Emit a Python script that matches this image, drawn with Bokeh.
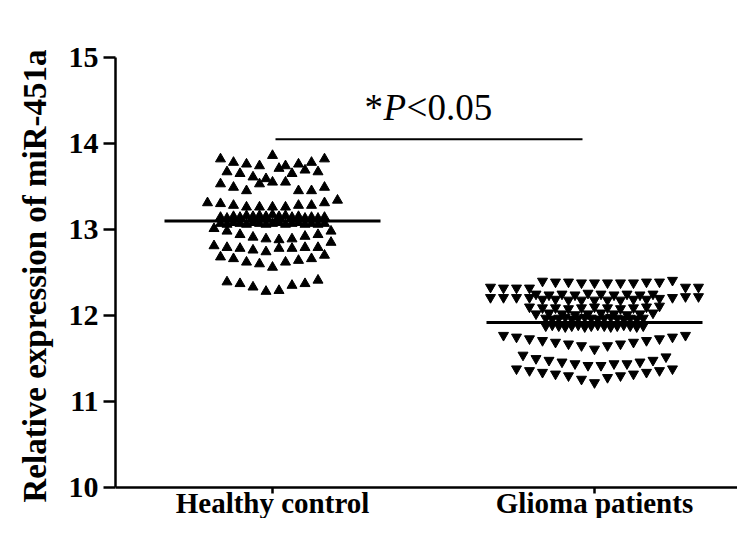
from bokeh.plotting import figure
from bokeh.models import Range1d, FixedTicker, Title
from bokeh.core.properties import value
from bokeh.embed import file_html
from bokeh.resources import INLINE

# ---------------- data ----------------
categories = ["Healthy control", "Glioma patients"]
y_ticks = [10, 11, 12, 13, 14, 15]
y_label = "Relative expression of miR-451a"
sig_parts = ["*", "P", "<0.05"]
sig_level = 14.05

group_means = [13.10, 11.92]

# healthy control: rows of values (left to right)
healthy_rows = [
    [13.82, 13.78, 13.76, 13.74, 13.86, 13.74, 13.76, 13.78, 13.82],
    [13.67, 13.65, 13.61, 13.59, 13.71, 13.65, 13.69, 13.67],
    [13.53, 13.49, 13.45, 13.53, 13.55, 13.55, 13.45, 13.45, 13.49],
    [13.31, 13.30, 13.28, 13.26, 13.26, 13.26, 13.26, 13.28, 13.28, 13.31, 13.34],
    [13.01, 12.98, 12.94, 12.91, 12.89, 12.88, 12.89, 12.92, 12.94, 12.98],
    [12.81, 12.79, 12.78, 12.76, 12.74, 12.78, 12.78, 12.79, 12.79, 12.85],
    [12.68, 12.66, 12.62, 12.60, 12.56, 12.62, 12.64, 12.66, 12.70],
    [12.39, 12.37, 12.33, 12.28, 12.29, 12.35, 12.37, 12.41],
]
# crowded rows around the healthy mean
healthy_dense_rows = [
    [13.14, 13.13, 13.15, 13.14, 13.16, 13.15, 13.16, 13.15, 13.17,
     13.15, 13.16, 13.14, 13.15, 13.13, 13.14, 13.13, 13.14],
    [13.07, 13.06, 13.08, 13.07, 13.06, 13.08, 13.07, 13.06, 13.07,
     13.08, 13.06, 13.07, 13.08, 13.06, 13.07, 13.06, 13.07],
]

# glioma patients: rows of values (left to right)
glioma_rows = [
    [12.33, 12.32, 12.32, 12.32, 12.40, 12.39, 12.39, 12.38, 12.38,
     12.38, 12.38, 12.38, 12.39, 12.39, 12.41, 12.33, 12.33],
    [12.25, 12.24, 12.25, 12.24, 12.26, 12.25, 12.24, 12.25, 12.24, 12.25],
    [12.21, 12.21, 12.21, 12.21, 12.19, 12.19, 12.18, 12.18, 12.18,
     12.18, 12.18, 12.19, 12.19, 12.20, 12.21, 12.22, 12.22],
    [12.10, 12.09, 12.09, 12.08, 12.09, 12.10, 12.09, 12.08, 12.09, 12.10, 12.11],
    [12.02, 12.03, 12.02, 12.01, 12.02, 12.03, 12.02, 12.01, 12.02, 12.03],
    [11.77, 11.75, 11.73, 11.71, 11.69, 11.67, 11.65, 11.61, 11.65,
     11.67, 11.69, 11.71, 11.73, 11.75, 11.77],
    [11.54, 11.50, 11.48, 11.46, 11.44, 11.42, 11.42, 11.44, 11.44, 11.46, 11.48, 11.52],
    [11.38, 11.36, 11.34, 11.32, 11.30, 11.26, 11.22, 11.28, 11.30,
     11.32, 11.34, 11.36, 11.38],
]
glioma_dense_rows = [
    [11.97, 11.96, 11.97, 11.98, 11.96, 11.97, 11.98, 11.97, 11.96,
     11.97, 11.98, 11.97, 11.96, 11.97, 11.96, 11.97],
    [11.88, 11.89, 11.88, 11.87, 11.88, 11.89, 11.87, 11.88, 11.89,
     11.88, 11.87, 11.88, 11.89, 11.88, 11.87, 11.88],
]

# ---------------- layout helpers ----------------
PX = 1.0 / 322.0          # one screen pixel in x data units
STEP = 13 * PX            # horizontal spacing of points in a row


def swarm(rows, center, step):
    xs, ys = [], []
    for row in rows:
        n = len(row)
        for i, v in enumerate(row):
            xs.append(center + (i - (n - 1) / 2.0) * step)
            ys.append(v)
    return xs, ys


hx, hy = swarm(healthy_rows, 1, STEP)
hdx, hdy = swarm(healthy_dense_rows, 1, STEP / 2)
gx, gy = swarm(glioma_rows, 2, STEP)
gdx, gdy = swarm(glioma_dense_rows, 2, STEP / 2)

FONT = "Liberation Serif"
Y_MIN, Y_MAX = y_ticks[0], y_ticks[-1]
# the frame runs a little below the axis floor so that the category names fit
y_start = Y_MIN - 31 * (Y_MAX - Y_MIN) / 430.0

p = figure(width=737, height=518, output_backend="svg", toolbar_location=None,
           x_range=Range1d(0.51242, 2.4441), y_range=Range1d(y_start, Y_MAX),
           min_border_left=115, min_border_right=0, min_border_top=57,
           min_border_bottom=0)
p.outline_line_color = None
p.xgrid.visible = False
p.ygrid.visible = False
p.background_fill_color = "white"
p.border_fill_color = "white"

# points
p.scatter(hx + hdx, hy + hdy, marker="triangle", size=10,
          fill_color="black", line_color="black")
p.scatter(gx + gdx, gy + gdy, marker="inverted_triangle", size=10,
          fill_color="black", line_color="black")

# mean lines
half = 108 * PX
for c, m in zip([1, 2], group_means):
    p.line([c - half, c + half], [m, m], line_color="black", line_width=3)

# significance bar + text
p.line([1 + 3 * PX, 2 - 12 * PX], [sig_level, sig_level], line_color="black", line_width=2)
mid = 1.4845
sig_y = 14.42
p.text([mid], [sig_y], text=[sig_parts[0]], text_font=value(FONT), text_font_size="37px",
       text_align="left", text_baseline="alphabetic", x_offset=-64, text_color="black")
p.text([mid], [sig_y], text=[sig_parts[1]], text_font=value(FONT), text_font_size="37px",
       text_font_style="italic", text_align="left", text_baseline="alphabetic",
       x_offset=-45, text_color="black")
p.text([mid], [sig_y], text=[sig_parts[2]], text_font=value(FONT), text_font_size="37px",
       text_align="left", text_baseline="alphabetic", x_offset=-22, text_color="black")

# y axis
ya = p.yaxis[0]
ya.ticker = FixedTicker(ticks=y_ticks)
ya.bounds = (Y_MIN, Y_MAX)
ya.minor_tick_line_color = None
ya.major_tick_out = 12
ya.major_tick_in = 0
ya.major_tick_line_width = 2.5
ya.axis_line_width = 2.5
ya.major_label_text_font = FONT
ya.major_label_text_font_style = "bold"
ya.major_label_text_font_size = "30px"
ya.major_label_text_color = "black"
ya.major_label_standoff = 5

# y axis title, aligned to the axis span (10..15) rather than the whole frame
p.add_layout(Title(text=y_label, align="left", offset=16, standoff=26,
                   text_font=FONT, text_font_size="33px", text_font_style="bold",
                   text_color="black"), "left")

# x axis drawn at the axis floor
xa = p.xaxis[0]
xa.fixed_location = Y_MIN
xa.ticker = FixedTicker(ticks=[1, 2])
xa.major_label_overrides = {1: categories[0], 2: categories[1]}
xa.minor_tick_line_color = None
xa.major_tick_out = 6
xa.major_tick_in = 0
xa.major_tick_line_width = 2.5
xa.axis_line_width = 2.5
xa.major_label_text_font = FONT
xa.major_label_text_font_style = "bold"
xa.major_label_text_font_size = "29px"
xa.major_label_text_color = "black"
xa.major_label_standoff = -7

open("out.html", "w").write(file_html(p, INLINE))
